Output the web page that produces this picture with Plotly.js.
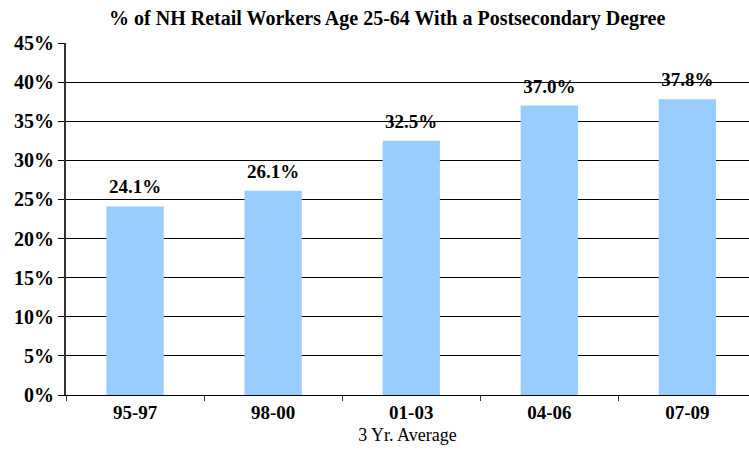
<!DOCTYPE html>
<html>
<head>
<meta charset="utf-8">
<script src="https://cdn.plot.ly/plotly-3.0.1.min.js"></script>
<style>html,body{margin:0;padding:0;background:#fff;}#chart{width:749px;height:458px;}</style>
</head>
<body>
<div id="chart"></div>
<script>
const categories = ["95-97", "98-00", "01-03", "04-06", "07-09"];
const values = [24.1, 26.1, 32.5, 37.0, 37.8];
const valueLabels = ["24.1%", "26.1%", "32.5%", "37.0%", "37.8%"];
const yTickVals = [0, 5, 10, 15, 20, 25, 30, 35, 40, 45];
const yTickText = ["0%", "5%", "10%", "15%", "20%", "25%", "30%", "35%", "40%", "45%"];

const serif = "Liberation Serif";

const trace = {
  type: "bar",
  x: categories,
  y: values,
  text: valueLabels,
  textposition: "outside",
  cliponaxis: false,
  textfont: {family: serif, size: 19, color: "#000", weight: "bold"},
  marker: {color: "#99CCFF", line: {width: 0}},
  hoverinfo: "none"
};

const layout = {
  width: 749,
  height: 458,
  margin: {l: 66, r: 0, t: 43, b: 63},
  paper_bgcolor: "#fff",
  plot_bgcolor: "#fff",
  bargap: 0.585,
  showlegend: false,
  font: {family: serif},
  title: {
    text: "<b>% of NH Retail Workers Age 25-64 With a Postsecondary Degree</b>",
    font: {family: serif, size: 20, color: "#000"},
    x: 0.517, xanchor: "center",
    y: 1 - 18/458, yref: "container", yanchor: "middle"
  },
  xaxis: {
    type: "category",
    range: [-0.5, 4.446],
    showline: true, linecolor: "#000", linewidth: 1,
    ticks: "outside", tickson: "boundaries", ticklen: 5, tickcolor: "#333", tickwidth: 1,
    showgrid: false, zeroline: false,
    tickfont: {family: serif, size: 19, color: "#000", weight: "bold"},
    title: {text: "3 Yr. Average", font: {family: serif, size: 18, color: "#000"}, standoff: 6},
    fixedrange: true
  },
  yaxis: {
    range: [0, 45],
    tickvals: yTickVals,
    ticktext: yTickText,
    showline: true, linecolor: "#333", linewidth: 2,
    ticks: "outside", ticklen: 6, tickcolor: "#000", tickwidth: 1,
    showgrid: true, gridcolor: "#000", gridwidth: 1,
    zeroline: false,
    tickfont: {family: serif, size: 20, color: "#000", weight: "bold"},
    fixedrange: true
  }
};

Plotly.newPlot("chart", [trace], layout, {displayModeBar: false, staticPlot: true}).then(function(gd){
  gd.querySelectorAll(".bartext").forEach(function(t){
    const tr = t.getAttribute("transform") || "";
    t.setAttribute("transform", "translate(0,-6) " + tr);
  });
});
</script>
</body>
</html>
